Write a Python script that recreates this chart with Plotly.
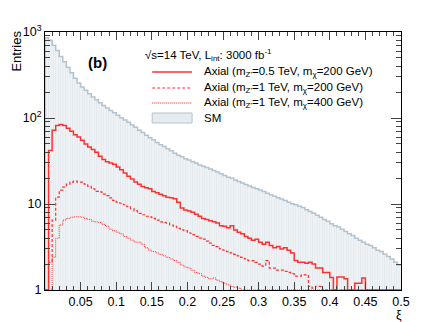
import numpy as np
import plotly.graph_objects as go

# binning: 100 bins of width 0.005 from 0 to 0.5
bin_width = 0.005
edges = np.round(np.arange(0, 0.5 + bin_width / 2, bin_width), 4)
centers = edges[:-1] + bin_width / 2

# SM background (entries per bin)
sm = [860, 800, 700, 610, 520, 450, 390, 335, 290, 255,
      230, 210, 192, 176, 163, 150, 140, 131, 122, 115,
      108, 101, 95, 89, 83, 78, 72, 68, 63, 59,
      56, 52, 49, 46.5, 44, 41.5, 39, 37, 35.5, 33.5,
      32.5, 31, 30, 28.5, 27.5, 26.5, 25.5, 24.5, 23.5, 22.5,
      21.5, 20.5, 20, 19, 18.3, 17.5, 16.8, 16.2, 15.6, 15,
      14.5, 14, 13.3, 12.8, 12.3, 11.8, 11.4, 11, 10.5, 10.1,
      9.8, 9.4, 9.1, 8.6, 8.2, 7.8, 7.4, 7.0, 6.6, 6.3,
      5.9, 5.6, 5.4, 5.1, 4.8, 4.5, 4.3, 4.0, 3.8, 3.6,
      3.4, 3.3, 3.1, 2.9, 2.8, 2.6, 2.45, 2.3, 2.1, 1.95]

# Axial mZ'=0.5 TeV, mchi=200 GeV
axial_05_200 = [0, 42, 72, 82, 84, 82, 76, 70, 64, 60,
                55, 50, 46, 43, 40, 36, 33, 31, 30, 29,
                27, 25, 23, 21, 19.5, 18, 17, 16, 15.5, 15,
                14, 13.5, 13, 12.5, 12, 11.8, 11.5, 10.5, 9, 8.5,
                8.3, 8.0, 7.6, 7.2, 6.8, 6.6, 6.4, 6.2, 6.0, 5.6,
                5.5, 5.3, 5.6, 5.0, 4.7, 4.5, 4.2, 4.0, 3.8, 3.9,
                3.6, 3.4, 3.6, 3.3, 3.1, 3.2, 3.0, 3.1, 2.9, 2.7,
                2.2, 2.1, 2.1, 2.05, 2.1, 2.0, 1.8, 1.8, 1.6, 1.6,
                1.4, 1.0, 1.42, 1.42, 1.35, 1.0, 0, 1.2, 1.2, 1.38,
                0, 0, 0, 0, 0, 0, 0, 0, 0, 0]

# Axial mZ'=1 TeV, mchi=200 GeV
axial_1_200 = [0, 2.1, 6.5, 12, 14.5, 15.7, 17, 18, 18.5, 18,
               18, 17, 16, 15, 14, 13.8, 13, 12.5, 11.8, 11,
               10.5, 10.2, 9.8, 9.3, 8.8, 8.3, 7.8, 7.5, 7.2, 7.1,
               6.8, 6.5, 6.2, 6.1, 6.0, 5.7, 5.5, 5.2, 5.0, 4.9,
               4.6, 4.4, 4.2, 4.0, 3.9, 3.7, 3.5, 3.3, 3.2, 3.0,
               2.9, 2.8, 2.7, 2.6, 2.5, 2.4, 2.3, 2.2, 2.2, 2.1,
               2.0, 1.9, 2.2, 1.8, 1.8, 1.7, 1.7, 1.65, 1.6, 1.55,
               1.45, 1.45, 1.5, 1.5, 1.1, 1.05, 1.1, 1.1, 0, 0,
               0, 0, 0, 0, 0, 0, 0, 0, 0, 0,
               0, 0, 0, 0, 0, 0, 0, 0, 0, 0]

# Axial mZ'=1 TeV, mchi=400 GeV
axial_1_400 = [0, 0, 2.4, 4.0, 5.7, 6.5, 6.8, 7.0, 7.1, 7.1,
               7.0, 6.8, 6.6, 6.3, 6.2, 6.1, 5.8, 5.5, 5.1, 4.9,
               4.7, 4.5, 4.2, 4.0, 3.8, 3.6, 3.6, 3.4, 3.1, 2.9,
               2.8, 2.7, 2.6, 2.5, 2.4, 2.3, 2.2, 2.1, 1.95, 1.85,
               1.8, 1.7, 1.6, 1.55, 1.45, 1.4, 1.35, 1.38, 1.3, 1.25,
               1.2, 1.15, 1.1, 1.08, 1.05, 0, 0, 0, 0, 0,
               0, 0, 0, 0, 0, 0, 0, 0, 0, 0,
               0, 0, 0, 0, 0, 0, 0, 0, 0, 0,
               0, 0, 0, 0, 0, 0, 0, 0, 0, 0,
               0, 0, 0, 0, 0, 0, 0, 0, 0, 0]

x_tickvals = [0.05, 0.1, 0.15, 0.2, 0.25, 0.3, 0.35, 0.4, 0.45, 0.5]
x_ticktext = ['0.05', '0.1', '0.15', '0.2', '0.25', '0.3', '0.35', '0.4', '0.45', '0.5']
y_tickvals = [1, 10, 100, 1000]
y_ticktext = ['1', '10', '10<sup>2</sup>', '10<sup>3</sup>']

FONT = 'Liberation Sans, Arial, Helvetica, sans-serif'
RED = '#ff3030'
SM_LINE = '#b3c3cf'


def step(vals):
    # ROOT-like histogram outline; empty bins sit on the axis (y=1 on log scale)
    v = np.clip(np.array(vals, dtype=float), 1, None)
    xs = np.concatenate([[edges[0]], edges[:-1], [edges[-1]]])
    ys = np.concatenate([[1], v, [v[-1]]])
    return xs, ys


fig = go.Figure()

fig.add_trace(go.Bar(
    x=centers, y=sm, width=bin_width,
    marker=dict(color='white', line=dict(width=0),
                pattern=dict(shape='|', fgcolor='#cdd8e0', bgcolor='#f5f7f9',
                             size=2.4, solidity=0.5)),
    showlegend=False))

xs, ys = step(sm)
fig.add_trace(go.Scatter(x=xs, y=ys, mode='lines', line_shape='hv',
                         line=dict(color=SM_LINE, width=1.5), showlegend=False))

for vals, dash, w in [(axial_05_200, 'solid', 1.5),
                      (axial_1_200, '3px,2px', 1.2),
                      (axial_1_400, '1px,1px', 1.0)]:
    xs, ys = step(vals)
    fig.add_trace(go.Scatter(x=xs, y=ys, mode='lines', line_shape='hv',
                             line=dict(color=RED, width=w, dash=dash),
                             showlegend=False))

# plot frame in pixels
L, R, T, B = 44.5, 401.5, 32, 290
W, H = 446, 322


def px(x):
    return (x - L) / (R - L)


def py(y):
    return (B - y) / (B - T)


# manual ROOT-style legend
shapes = []
annotations = []
legend_rows = [
    (72, 'solid', 1.5, "Axial (m<sub>Z'</sub>=0.5 TeV, m<sub>χ</sub>=200 GeV)"),
    (88, '3px,2px', 1.2, "Axial (m<sub>Z'</sub>=1 TeV, m<sub>χ</sub>=200 GeV)"),
    (103, '1px,1px', 1.0, "Axial (m<sub>Z'</sub>=1 TeV, m<sub>χ</sub>=400 GeV)"),
]
for yy, dash, w, txt in legend_rows:
    shapes.append(dict(type='line', xref='paper', yref='paper',
                       x0=px(152), x1=px(192), y0=py(yy), y1=py(yy),
                       line=dict(color=RED, width=w, dash=dash)))
    annotations.append(dict(xref='paper', yref='paper', x=px(202), y=py(yy),
                            xanchor='left', yanchor='middle', showarrow=False,
                            text=txt, font=dict(size=11.5, color='black', family=FONT)))
shapes.append(dict(type='rect', xref='paper', yref='paper',
                   x0=px(152), x1=px(192), y0=py(123), y1=py(113),
                   fillcolor='#e6ebf0', line=dict(color=SM_LINE, width=1)))
annotations.append(dict(xref='paper', yref='paper', x=px(202), y=py(118),
                        xanchor='left', yanchor='middle', showarrow=False,
                        text='SM', font=dict(size=11.5, color='black', family=FONT)))
annotations.append(dict(xref='paper', yref='paper', x=px(143), y=py(55),
                        xanchor='left', yanchor='middle', showarrow=False,
                        text='√s=14 TeV, L<sub>int</sub>: 3000 fb<sup>-1</sup>',
                        font=dict(size=11.5, color='black', family=FONT)))
annotations.append(dict(xref='paper', yref='paper', x=px(97), y=py(62),
                        xanchor='center', yanchor='middle', showarrow=False,
                        text='<b>(b)</b>', font=dict(size=15, color='black', family=FONT)))
annotations.append(dict(xref='paper', yref='paper', x=px(15), y=py(51),
                        xanchor='center', yanchor='middle', showarrow=False,
                        textangle=-90, text='Entries',
                        font=dict(size=13, color='black', family=FONT)))
annotations.append(dict(xref='paper', yref='paper', x=px(399), y=py(315),
                        xanchor='center', yanchor='middle', showarrow=False,
                        text='ξ', font=dict(size=12.5, color='black', family=FONT)))

fig.update_layout(
    width=W, height=H,
    margin=dict(l=L, r=W - R, t=T, b=H - B),
    paper_bgcolor='white', plot_bgcolor='white',
    bargap=0, barmode='overlay',
    font=dict(family=FONT, size=12, color='black'),
    shapes=shapes, annotations=annotations,
    xaxis=dict(range=[0, 0.5], tickmode='array', tickvals=x_tickvals, ticktext=x_ticktext,
               ticks='inside', ticklen=8, tickcolor='#444', showline=True, linecolor='black',
               linewidth=1, mirror='ticks', showgrid=False, zeroline=False,
               tickfont=dict(size=12.5),
               minor=dict(ticks='inside', ticklen=4, dtick=0.01, tick0=0, tickcolor='#444',
                          showgrid=False)),
    yaxis=dict(type='log', range=[0, 3], tickmode='array', tickvals=y_tickvals,
               ticktext=y_ticktext, ticks='inside', ticklen=10, tickcolor='#444',
               showline=True, linecolor='black', linewidth=1, mirror='ticks',
               showgrid=False, zeroline=False, tickfont=dict(size=12.5),
               minor=dict(ticks='inside', ticklen=5, dtick='D1', tickcolor='#444',
                          showgrid=False)),
)

fig.write_html("out.html", config={'displayModeBar': False},
               post_script="document.body.style.margin='0';document.body.style.overflow='hidden';")
